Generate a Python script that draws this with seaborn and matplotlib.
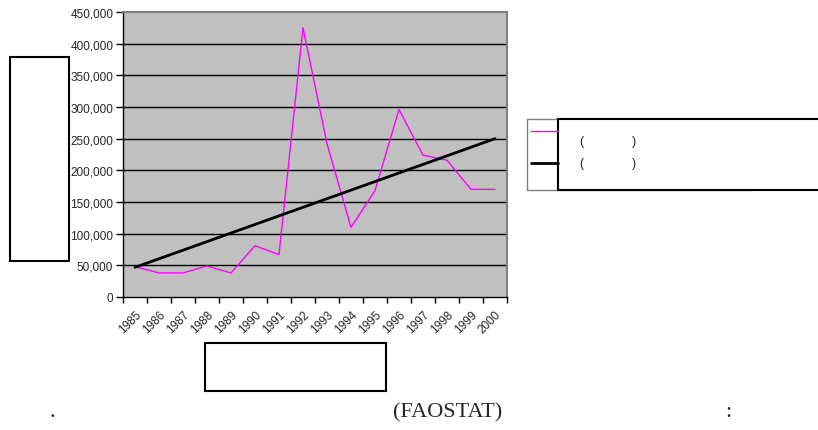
import matplotlib
matplotlib.use("Agg")
import matplotlib.pyplot as plt
import seaborn as sns
import pandas as pd
import numpy as np
from matplotlib.patches import Rectangle
from matplotlib.lines import Line2D
from matplotlib.ticker import FuncFormatter

years = [str(y) for y in range(1985, 2001)]
production = [48000, 38000, 38000, 49000, 38000, 81000, 67000, 425000,
              242000, 110000, 168000, 296000, 224000, 216000, 170000, 170000]
trend_years = ["1985", "2000"]
trend_values = [46800, 250000]
yticks = [0, 50000, 100000, 150000, 200000, 250000, 300000, 350000, 400000, 450000]

sns.set_theme(style="white")
plt.rcParams['font.family'] = ['Liberation Sans', 'DejaVu Sans']

W, H = 818, 431
fig = plt.figure(figsize=(W / 100, H / 100), dpi=100)
ax = fig.add_axes([123 / W, 1 - 298 / H, (507 - 123) / W, (298 - 13) / H])
ax.set_facecolor("#c0c0c0")

df = pd.DataFrame({"pos": np.arange(len(years)), "value": production})
tdf = pd.DataFrame({"pos": [years.index(y) for y in trend_years], "value": trend_values})

for yv in yticks[1:-1]:
    ax.axhline(yv, color="black", lw=1.0, zorder=1)

sns.lineplot(data=df, x="pos", y="value", ax=ax, color="#ff00ff", lw=1.0, zorder=3)
sns.lineplot(data=tdf, x="pos", y="value", ax=ax, color="black", lw=2.0, zorder=4)

ax.set_xlim(-0.5, len(years) - 0.5)
ax.set_ylim(0, 450000)
ax.set_xlabel("")
ax.set_ylabel("")

ax.set_yticks(yticks)
ax.yaxis.set_major_formatter(FuncFormatter(lambda v, p: f"{int(v):,}"))
ax.tick_params(axis="y", direction="out", length=5, width=1, color="black",
               labelsize=8.5, pad=2, left=True)

ax.set_xticks(np.arange(-0.5, len(years), 1.0))
ax.set_xticklabels([])
ax.tick_params(axis="x", which="major", direction="out", length=4, width=1,
               color="black", bottom=True)
ax.set_xticks(np.arange(len(years)), minor=True)
ax.set_xticklabels(years, minor=True, rotation=45, ha="right",
                   rotation_mode="anchor", fontsize=8.5)
ax.tick_params(axis="x", which="minor", length=0, pad=8)

for s in ["left", "bottom"]:
    ax.spines[s].set_color("black")
    ax.spines[s].set_linewidth(1.0)
for s in ["top", "right"]:
    ax.spines[s].set_color("#808080")
    ax.spines[s].set_linewidth(1.5)

def px_rect(x0, y0, x1, y1, ec="black", lw=1.5, fc="white", z=5):
    r = Rectangle((x0 / W, 1 - y1 / H), (x1 - x0) / W, (y1 - y0) / H,
                  transform=fig.transFigure, facecolor=fc, edgecolor=ec,
                  lw=lw, zorder=z)
    fig.add_artist(r)

def px_line(x0, y0, x1, y1, color, lw):
    fig.add_artist(Line2D([x0 / W, x1 / W], [1 - y0 / H, 1 - y1 / H],
                          transform=fig.transFigure, color=color, lw=lw, zorder=7))

# left (y-axis title) box and bottom (x-axis title) box
px_rect(10, 58, 69, 262)
px_rect(205, 344, 386, 392)

# legend
px_rect(527, 120, 751, 191, ec="#808080", lw=1.0, z=5)
px_rect(558, 120, 830, 191, ec="black", lw=1.5, z=6)
px_line(531, 132, 558, 132, "#ff00ff", 1.0)
px_line(531, 164, 558, 164, "black", 2.0)
for yy in (142, 164):
    fig.text(581 / W, 1 - yy / H, "(", fontsize=9, va="center", ha="center", zorder=8)
    fig.text(634 / W, 1 - yy / H, ")", fontsize=9, va="center", ha="center", zorder=8)

# caption
serif = ['Liberation Serif', 'DejaVu Serif']
fig.text(448 / W, 1 - 413 / H, "(FAOSTAT)", fontsize=16, family=serif,
         ha="center", va="center")
fig.text(52 / W, 1 - 413 / H, ".", fontsize=16, family=serif, ha="center", va="center")
fig.text(728 / W, 1 - 413 / H, ":", fontsize=16, family=serif, ha="center", va="center")

fig.savefig("out.png", dpi=100)
